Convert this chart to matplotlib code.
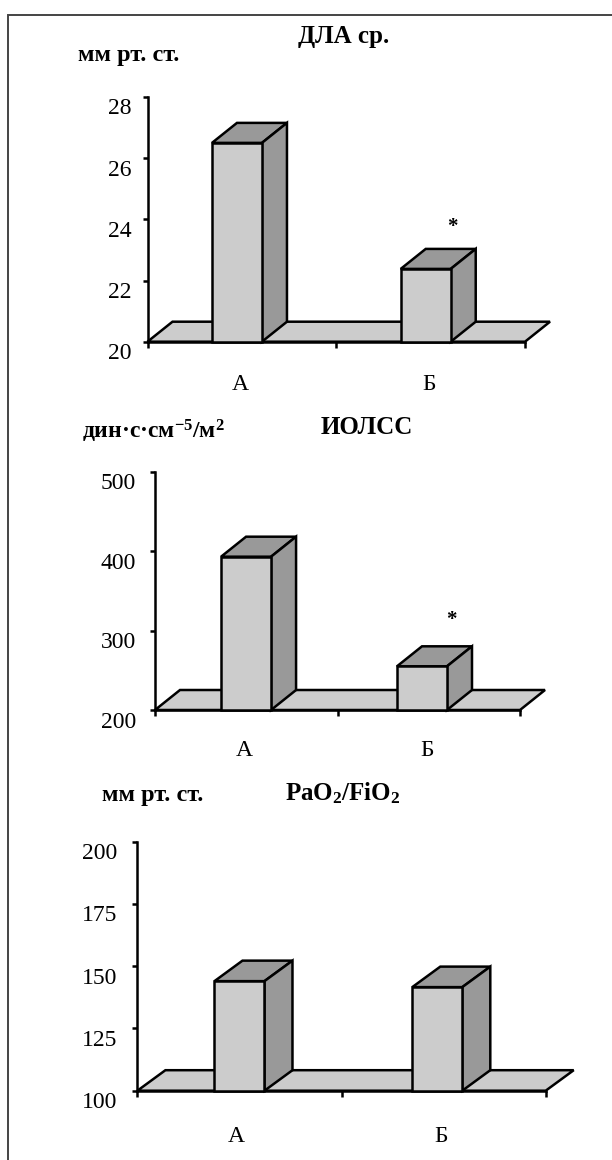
import matplotlib
matplotlib.use('Agg')
import matplotlib.pyplot as plt
from matplotlib.patches import Polygon, Rectangle
from matplotlib.transforms import ScaledTranslation

plt.rcParams['font.family'] = ['Liberation Serif', 'DejaVu Serif']
plt.rcParams['mathtext.fontset'] = 'custom'
plt.rcParams['mathtext.rm'] = 'Liberation Serif'
plt.rcParams['mathtext.bf'] = 'Liberation Serif:bold'
plt.rcParams['mathtext.default'] = 'regular'

W, H = 612, 1160
categories = ['А', 'Б']

dla_values = [26.5, 22.38]
dla_ticks = [20, 22, 24, 26, 28]
iolss_values = [393, 255]
iolss_ticks = [200, 300, 400, 500]
pao2_values = [144, 141.6]
pao2_ticks = [100, 125, 150, 175, 200]

FRONT = '#cccccc'
DARK = '#999999'
LW = 1.8

fig = plt.figure(figsize=(W / 100, H / 100), dpi=100)


def label(x, y, s, size=14, weight='bold'):
    fig.text(x / W, 1 - y / H, s, fontsize=size, fontweight=weight, ha='center', va='center')


def panel(box, values, ticks, bar_pos, bar_w, depth, pad, cat_xy):
    x0, y0, x1, y1 = box
    ax = fig.add_axes([x0 / W, 1 - y1 / H, (x1 - x0) / W, (y1 - y0) / H])
    ax.set_xlim(0, 2)
    ax.set_ylim(ticks[0], ticks[-1])
    lo = ticks[0]
    # depth of the fake 3d, pixels to data units
    dx = depth[0] * 2 / (x1 - x0)
    dy = depth[1] * (ticks[-1] - ticks[0]) / (y1 - y0)
    w = bar_w * 2 / (x1 - x0)

    ax.add_patch(Polygon([(0, lo), (dx, lo + dy), (2 + dx, lo + dy), (2, lo)], closed=True,
                         fc=FRONT, ec='k', lw=LW, clip_on=False, zorder=1))
    ax.bar(bar_pos, [v - lo for v in values], width=w, bottom=lo, color=FRONT, edgecolor='k',
           linewidth=LW, clip_on=False, zorder=3)
    for p, v in zip(bar_pos, values):
        l, r = p - w / 2, p + w / 2
        ax.add_patch(Polygon([(l, v), (l + dx, v + dy), (r + dx, v + dy), (r, v)],
                             closed=True, fc=DARK, ec='k', lw=LW, clip_on=False, zorder=2))
        ax.add_patch(Polygon([(r, lo), (r + dx, lo + dy), (r + dx, v + dy), (r, v)],
                             closed=True, fc=DARK, ec='k', lw=LW, clip_on=False, zorder=2))

    for s in ['top', 'right']:
        ax.spines[s].set_visible(False)
    for s in ['left', 'bottom']:
        ax.spines[s].set_linewidth(LW)
    ax.patch.set_visible(False)
    ax.set_xticks([0, 1, 2])
    ax.set_xticklabels([])
    ax.set_yticks(ticks)
    ax.tick_params(axis='x', length=4.5, width=LW)
    ax.tick_params(axis='y', length=3.5, width=LW, labelsize=17, pad=pad)
    # tick labels sit just under their ticks in the original
    shift = ScaledTranslation(0, -1.5 / 100, fig.dpi_scale_trans)
    for t in ax.get_yticklabels():
        t.set_verticalalignment('top')
        t.set_transform(t.get_transform() + shift)
    for c, (cx, cy) in zip(categories, cat_xy):
        label(cx, cy, c, size=17, weight='normal')
    return ax


panel((147.5, 97, 525, 341.7), dla_values, dla_ticks, [0.474, 1.474], 50, (25, 20), 8,
      [(240, 385), (429, 385)])
label(344, 36, 'ДЛА ср.', size=18)
label(129, 56, 'мм рт. ст.', size=17.5)
label(452, 227, '*', size=15)

panel((155, 471.7, 520, 710), iolss_values, iolss_ticks, [0.499, 1.463], 50, (25, 20), 10,
      [(244, 751), (427, 751)])
label(367, 427, 'ИОЛСС', size=18)
label(153, 431, r'дин·с·см$^{\mathbf{-5}}$/м$^{\mathbf{2}}$', size=17)
label(451, 620, '*', size=15)

panel((137.4, 841.7, 545.7, 1090.7), pao2_values, pao2_ticks, [0.5, 1.469], 50, (28, 20.5), 11,
      [(236, 1137), (441, 1137)])
label(343, 793, r'PaO$_{\mathbf{2}}$/FiO$_{\mathbf{2}}$', size=18)
label(153, 795, 'мм рт. ст.', size=17.5)

# frame of the page, runs off the right and bottom edges
fig.add_artist(Rectangle((8 / W, -0.02), 1.1, 1 - 15 / H + 0.02, transform=fig.transFigure,
                         fill=False, ec='#444444', lw=1.4))

fig.savefig('out.png', dpi=100)
